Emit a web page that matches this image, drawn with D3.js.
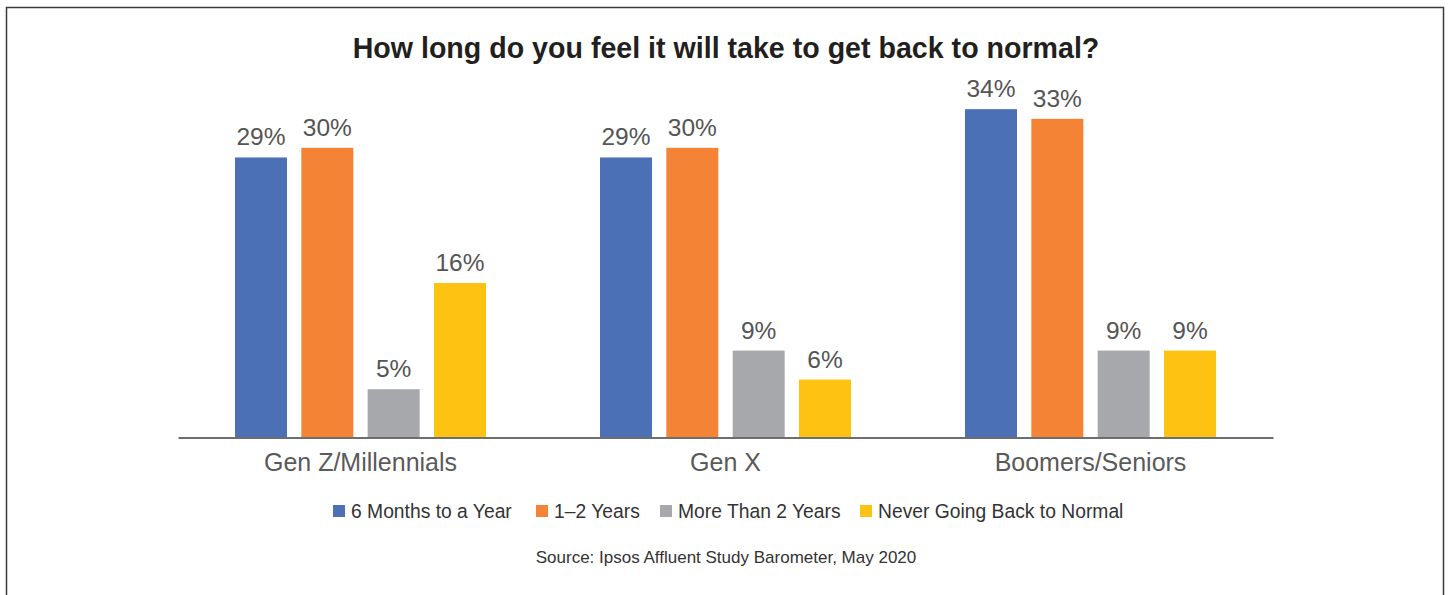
<!DOCTYPE html>
<html>
<head>
<meta charset="utf-8">
<script src="https://cdn.jsdelivr.net/npm/d3@7"></script>
<style>
  body { margin: 0; background: #fff; }
  svg { display: block; font-family: "Liberation Sans", Arial, Helvetica, sans-serif; }
</style>
</head>
<body>
<svg width="1449" height="595"></svg>
<script>
var groups = ["Gen Z/Millennials", "Gen X", "Boomers/Seniors"];
var seriesNames = ["6 Months to a Year", "1\u20132 Years", "More Than 2 Years", "Never Going Back to Normal"];
var colors = ["#4b70b6", "#f58335", "#a7a8ab", "#fec312"];

// percent per series, one value per group
var sixMonths = [29, 29, 34];
var oneToTwo = [30, 30, 33];
var moreThanTwo = [5, 9, 9];
var never = [16, 6, 9];

var series = [sixMonths, oneToTwo, moreThanTwo, never];

var svg = d3.select("svg");

// outer frame (open at the bottom)
svg.append("path")
    .attr("d", "M6.5,600 L6.5,7.5 L1443.5,7.5 L1443.5,600")
    .attr("fill", "none")
    .attr("stroke", "#3a3a3a")
    .attr("stroke-width", 1.5);

svg.append("text")
    .attr("x", 726)
    .attr("y", 58)
    .attr("text-anchor", "middle")
    .attr("font-size", 28.6)
    .attr("font-weight", "bold")
    .attr("fill", "#231f20")
    .text("How long do you feel it will take to get back to normal?");

var x0 = d3.scaleBand()
    .domain(groups)
    .range([178, 1273]);

var clusterWidth = 251;
var x1 = d3.scaleBand()
    .domain(d3.range(series.length))
    .range([0, clusterWidth])
    .paddingInner(0.216);

var y = d3.scaleLinear()
    .domain([0, 30])
    .range([437.5, 147.8]);

var rows = [];
groups.forEach(function(g, gi) {
    series.forEach(function(s, si) {
        rows.push({ group: g, s: si, value: s[gi] });
    });
});

var barsG = svg.append("g").attr("class", "bars");
var offset = (x0.bandwidth() - clusterWidth) / 2;

barsG.selectAll("rect")
    .data(rows)
    .enter()
        .append("rect")
        .attr("x", d => x0(d.group) + offset + x1(d.s))
        .attr("y", d => y(d.value))
        .attr("width", x1.bandwidth())
        .attr("height", d => y(0) - y(d.value))
        .attr("fill", d => colors[d.s]);

barsG.selectAll("text")
    .data(rows)
    .enter()
        .append("text")
        .attr("x", d => x0(d.group) + offset + x1(d.s) + x1.bandwidth() / 2)
        .attr("y", d => y(d.value) - 12)
        .attr("text-anchor", "middle")
        .attr("font-size", 24.5)
        .attr("fill", "#555")
        .text(d => d.value + "%");

// baseline axis
var axis = svg.append("g")
    .attr("transform", "translate(0," + y(0) + ")")
    .call(d3.axisBottom(x0).tickSize(0).tickPadding(16));
axis.select(".domain")
    .attr("stroke", "#6e6e6e")
    .attr("stroke-width", 2);
axis.selectAll(".tick text")
    .attr("font-size", 25)
    .attr("font-family", "Liberation Sans, Arial, sans-serif")
    .attr("fill", "#5a5a5a");

// legend
var legendX = [333, 536, 660, 860];
var legend = svg.append("g").attr("class", "legend");
seriesNames.forEach(function(name, i) {
    var item = legend.append("g").attr("transform", "translate(" + legendX[i] + ",505)");
    item.append("rect")
        .attr("width", 12)
        .attr("height", 12)
        .attr("fill", colors[i]);
    item.append("text")
        .attr("x", 18)
        .attr("y", 13)
        .attr("font-size", 19.3)
        .attr("fill", "#333")
        .text(name);
});

svg.append("text")
    .attr("x", 726)
    .attr("y", 563)
    .attr("text-anchor", "middle")
    .attr("font-size", 17)
    .attr("fill", "#333")
    .text("Source: Ipsos Affluent Study Barometer, May 2020");
</script>
</body>
</html>
